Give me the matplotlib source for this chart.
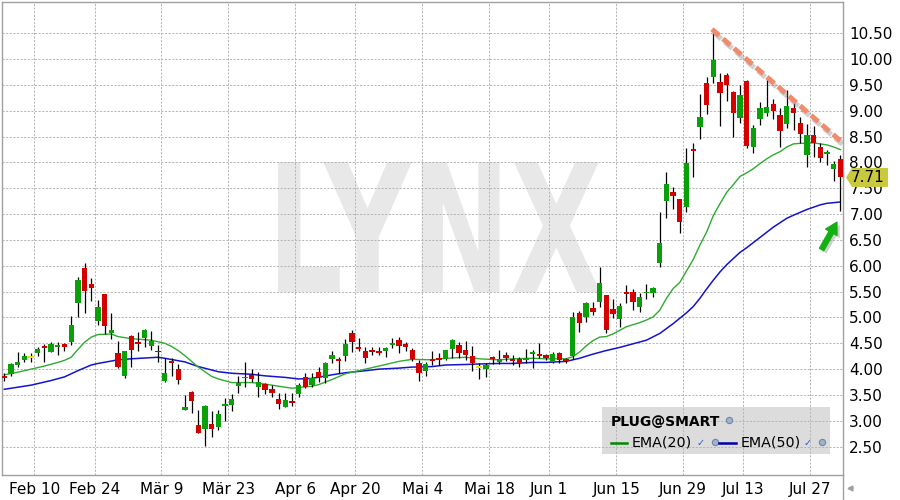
import numpy as np
import pandas as pd
import matplotlib
matplotlib.use("Agg")
import matplotlib.pyplot as plt
from matplotlib.textpath import TextPath
from matplotlib.font_manager import FontProperties
from matplotlib.patches import PathPatch, Rectangle, Polygon, FancyArrowPatch
from matplotlib.lines import Line2D
from matplotlib.transforms import Affine2D
import matplotlib.patheffects as pe

plt.rcParams['font.family'] = ['DejaVu Sans']
plt.rcParams['lines.scale_dashes'] = False

# ---------------- data ----------------
holidays = ['2020-02-17', '2020-04-10', '2020-05-25', '2020-07-03']
dates = [d for d in pd.bdate_range('2020-02-03', '2020-07-31')
         if d.strftime('%Y-%m-%d') not in holidays]

opens = [3.87, 3.90, 4.08, 4.18, 4.24, 4.32, 4.455, 4.34, 4.43, 4.487,
         4.53, 5.287, 5.95, 5.65, 4.94, 5.455, 4.706, 4.306, 3.87, 4.64,
         4.525, 4.596, 4.455, 4.36, 3.777, 4.157, 4.0, 3.215, 3.55, 2.92,
         2.84, 2.94, 2.886, 3.293, 3.31, 3.68, 3.82, 3.887, 3.65, 3.713,
         3.61, 3.42, 3.274, 3.384, 3.51, 3.842, 3.694, 3.952, 3.823, 4.197,
         4.197, 4.26, 4.707, 4.429, 4.358, 4.371, 4.352, 4.358, 4.474, 4.565,
         4.494, 4.371, 4.126, 3.971, 4.197, 4.223, 4.197, 4.397, 4.468, 4.371,
         4.255, 4.042, 4.003, 4.242, 4.145, 4.274, 4.19, 4.19, 4.177, 4.30,
         4.294, 4.274, 4.145, 4.32, 4.197, 4.261, 5.094, 5.0, 5.177, 5.306,
         5.435, 5.157, 4.963, 5.499, 5.499, 5.196, 5.467, 5.48, 6.047, 7.26,
         7.434, 7.292, 7.131, 8.26, 8.692, 9.531, 9.647, 9.557, 9.693, 9.37,
         8.867, 9.576, 8.305, 8.834, 8.963, 9.125, 8.918, 8.738, 9.06, 8.77,
         8.144, 8.531, 8.305, 8.157, 7.873, 8.06]
highs = [3.92, 4.11, 4.34, 4.31, 4.32, 4.435, 4.48, 4.53, 4.52, 4.51,
         5.02, 5.79, 6.06, 5.77, 5.34, 5.46, 5.09, 4.55, 4.36, 4.66,
         4.71, 4.78, 4.745, 4.47, 4.21, 4.21, 4.09, 3.50, 3.58, 3.21,
         3.306, 3.19, 3.21, 3.435, 3.51, 3.87, 4.13, 4.0, 3.94, 3.725,
         3.69, 3.53, 3.53, 3.53, 3.725, 3.93, 3.92, 4.05, 4.145, 4.36,
         4.229, 4.584, 4.758, 4.597, 4.436, 4.436, 4.436, 4.42, 4.597, 4.616,
         4.533, 4.416, 4.177, 4.145, 4.352, 4.307, 4.38, 4.584, 4.52, 4.545,
         4.449, 4.113, 4.113, 4.255, 4.371, 4.339, 4.274, 4.242, 4.39, 4.371,
         4.513, 4.294, 4.339, 4.33, 4.21, 5.113, 5.13, 5.306, 5.306, 5.983,
         5.44, 5.35, 5.273, 5.628, 5.544, 5.467, 5.647, 5.596, 7.047, 7.822,
         7.531, 7.30, 8.273, 8.37, 9.325, 9.647, 10.512, 9.725, 9.738, 9.38,
         9.499, 9.596, 8.725, 9.176, 9.628, 9.221, 9.047, 9.402, 9.209, 8.886,
         8.744, 8.705, 8.37, 8.241, 8.028, 8.144]
lows = [3.78, 3.87, 4.05, 4.13, 4.13, 4.255, 4.145, 4.33, 4.27, 4.36,
        4.47, 5.0, 5.09, 5.31, 4.855, 4.68, 4.58, 4.03, 3.82, 4.05,
        4.36, 4.435, 4.37, 4.145, 3.745, 3.87, 3.72, 3.20, 3.145, 2.76,
        2.51, 2.69, 2.82, 3.0, 3.197, 3.53, 3.66, 3.745, 3.467, 3.51,
        3.455, 3.22, 3.26, 3.287, 3.467, 3.63, 3.65, 3.76, 3.726, 4.126,
        3.93, 4.158, 4.339, 4.352, 4.126, 4.274, 4.274, 4.242, 4.416, 4.32,
        4.358, 4.158, 3.778, 3.874, 4.081, 4.081, 4.177, 4.21, 4.21, 4.177,
        3.971, 3.803, 3.855, 4.094, 4.094, 4.158, 4.081, 4.049, 4.113, 4.016,
        4.21, 4.177, 4.126, 4.113, 4.113, 4.197, 4.726, 4.918, 5.047, 5.209,
        4.693, 4.983, 4.822, 5.273, 5.144, 5.112, 5.35, 5.389, 5.97, 6.918,
        7.092, 6.628, 7.047, 7.725, 8.447, 8.938, 9.531, 8.705, 9.189, 8.499,
        8.757, 8.273, 8.176, 8.725, 8.905, 8.834, 8.305, 8.673, 8.628, 8.37,
        7.918, 8.112, 8.015, 7.951, 7.647, 7.06]
closes = [3.835, 4.10, 4.14, 4.255, 4.24, 4.39, 4.415, 4.487, 4.47, 4.435,
          4.855, 5.725, 5.52, 5.58, 5.21, 4.835, 4.76, 4.05, 4.35, 4.37,
          4.487, 4.76, 4.55, 4.325, 3.92, 4.12, 3.79, 3.26, 3.39, 2.77,
          3.287, 2.84, 3.125, 3.325, 3.42, 3.725, 3.855, 3.81, 3.745, 3.596,
          3.545, 3.32, 3.403, 3.35, 3.693, 3.662, 3.823, 3.842, 4.126, 4.274,
          4.158, 4.487, 4.533, 4.39, 4.223, 4.339, 4.32, 4.416, 4.507, 4.455,
          4.436, 4.197, 3.93, 4.10, 4.158, 4.177, 4.371, 4.571, 4.313, 4.274,
          4.126, 4.042, 4.081, 4.197, 4.197, 4.223, 4.158, 4.12, 4.216, 4.339,
          4.261, 4.223, 4.294, 4.171, 4.158, 5.0, 4.90, 5.286, 5.112, 5.66,
          4.757, 5.067, 5.222, 5.454, 5.306, 5.402, 5.499, 5.577, 6.447, 7.583,
          7.357, 6.841, 7.983, 8.228, 8.873, 9.112, 9.983, 9.35, 9.499, 8.963,
          9.305, 8.325, 8.66, 9.047, 9.067, 9.002, 8.615, 9.093, 8.963, 8.544,
          8.531, 8.383, 8.08, 8.209, 7.97, 7.71]

ema20_idx = [0, 2, 4, 6, 8, 9, 10, 11, 12, 13, 14, 16, 17, 19, 22, 23, 24, 25,
             26, 27, 28, 29, 30, 31, 32, 34, 37, 39, 41, 43, 44, 46, 47, 49, 51,
             54, 56, 59, 61, 64, 66, 69, 71, 74, 76, 79, 81, 84, 85, 86, 87, 88,
             89, 90, 91, 92, 93, 94, 95, 96, 97, 98, 99, 100, 101, 102, 103, 104,
             105, 106, 107, 108, 109, 110, 111, 112, 113, 114, 115, 116, 117, 118,
             119, 120, 121, 122, 123, 124, 125]
ema20 = [3.89, 3.94, 4.0, 4.06, 4.13, 4.17, 4.23, 4.38, 4.52, 4.62, 4.67, 4.68,
         4.63, 4.59, 4.56, 4.53, 4.50, 4.44, 4.36, 4.26, 4.15, 4.04, 3.95, 3.86,
         3.81, 3.74, 3.74, 3.71, 3.67, 3.63, 3.645, 3.67, 3.70, 3.80, 3.91, 4.00,
         4.06, 4.15, 4.19, 4.18, 4.21, 4.23, 4.20, 4.18, 4.20, 4.21, 4.20, 4.20,
         4.24, 4.33, 4.45, 4.55, 4.62, 4.63, 4.68, 4.75, 4.82, 4.86, 4.90, 4.95,
         5.01, 5.14, 5.37, 5.56, 5.68, 5.90, 6.12, 6.40, 6.65, 6.97, 7.20, 7.42,
         7.57, 7.73, 7.80, 7.88, 7.98, 8.07, 8.15, 8.21, 8.30, 8.36, 8.37, 8.37,
         8.38, 8.36, 8.34, 8.30, 8.25]

ema50_idx = [0, 4, 7, 9, 10, 11, 13, 14, 17, 19, 23, 24, 27, 29, 32, 34, 37, 39,
             42, 44, 46, 49, 51, 54, 56, 59, 61, 64, 66, 69, 71, 74, 76, 79, 81,
             84, 86, 88, 90, 92, 94, 96, 98, 100, 102, 103, 104, 105, 106, 107,
             108, 109, 110, 111, 113, 115, 117, 118, 120, 122, 123, 125]
ema50 = [3.61, 3.69, 3.78, 3.85, 3.91, 3.97, 4.08, 4.11, 4.18, 4.20, 4.23, 4.21,
         4.14, 4.05, 3.95, 3.92, 3.90, 3.87, 3.84, 3.81, 3.82, 3.89, 3.93, 3.97,
         4.00, 4.02, 4.04, 4.05, 4.08, 4.09, 4.10, 4.11, 4.11, 4.13, 4.13, 4.15,
         4.21, 4.29, 4.36, 4.42, 4.49, 4.56, 4.69, 4.88, 5.09, 5.21, 5.37, 5.55,
         5.72, 5.88, 6.02, 6.14, 6.26, 6.35, 6.55, 6.75, 6.92, 6.98, 7.09, 7.18,
         7.21, 7.235]

tick_dates = ['2020-02-10', '2020-02-24', '2020-03-09', '2020-03-23', '2020-04-06',
              '2020-04-20', '2020-05-04', '2020-05-18', '2020-06-01', '2020-06-15',
              '2020-06-29', '2020-07-13', '2020-07-27']
tick_labels = ['Feb 10', 'Feb 24', 'Mär 9', 'Mär 23', 'Apr 6', 'Apr 20', 'Mai 4',
               'Mai 18', 'Jun 1', 'Jun 15', 'Jun 29', 'Jul 13', 'Jul 27']
y_ticks = [2.5, 3.0, 3.5, 4.0, 4.5, 5.0, 5.5, 6.0, 6.5, 7.0, 7.5, 8.0, 8.5,
           9.0, 9.5, 10.0, 10.5]
last_price = 7.71

trend_x = [105.8, 125.0]
trend_y = [10.58, 8.42]
arrow_tail = (122.0, 6.27)
arrow_head = (124.7, 6.89)

# ---------------- figure ----------------
W, H = 900, 500
fig = plt.figure(figsize=(9, 5), dpi=100)
fig.patch.set_facecolor('white')


def F(x, y):
    return (x / W, 1 - y / H)


ax_l, ax_r, ax_t, ax_b = 1.5, 843, 2, 475
ax = fig.add_axes([ax_l / W, 1 - ax_b / H, (ax_r - ax_l) / W, (ax_b - ax_t) / H])
ax.set_xlim(-0.419, 125.40)
ax.set_ylim(1.951, 11.106)
ax.set_axisbelow(True)

# watermark
fp = FontProperties(family='DejaVu Sans', weight='bold')
tp = TextPath((0, 0), 'LYNX', size=100, prop=fp)
bb = tp.get_extents()
wx0, wx1, wy0, wy1 = 278, 600, 162, 292
tr = (Affine2D().translate(-bb.x0, -bb.y0)
      .scale((wx1 - wx0) / W / bb.width, (wy1 - wy0) / H / bb.height)
      .translate(wx0 / W, 1 - wy1 / H) + fig.transFigure)
wm = PathPatch(tp, transform=tr, facecolor='#e8e8e8', edgecolor='none',
               zorder=0.1, clip_on=False)
ax.add_patch(wm)

# legend box background (under grid)
lg = Rectangle(F(601.5, 454), 228 / W, 47 / H, transform=fig.transFigure,
               facecolor='#dcdcdc', edgecolor='none', zorder=0.2, clip_on=False)
ax.add_patch(lg)

# grid / axes styling
ax.set_yticks(y_ticks)
ax.set_yticklabels([f'{v:.2f}' for v in y_ticks])
ax.yaxis.tick_right()
tick_pos = [dates.index(pd.Timestamp(t)) - 0.5 for t in tick_dates]
ax.set_xticks(tick_pos)
ax.set_xticklabels(tick_labels)
ax.grid(True, color='#b4b4b4', lw=0.7, linestyle=(0, (1.5, 1.1)))
ax.tick_params(axis='both', length=0, labelsize=11, colors='black')
ax.tick_params(axis='y', pad=4.5)
ax.tick_params(axis='x', pad=5)
for s in ax.spines.values():
    s.set_color('#a0a0a0')
    s.set_linewidth(1.0)

# EMA lines
ax.plot(ema50_idx, ema50, color='#1414cc', lw=1.1, zorder=2)
ax.plot(ema20_idx, ema20, color='#30aa30', lw=1.0, zorder=2)

# candles
idx = np.arange(len(opens))
o = np.array(opens)
c = np.array(closes)
colors = np.where(c > o, '#0aa00a', np.where(c < o, '#d40000', '#e6e600'))
bottom = np.minimum(o, c)
height = np.maximum(np.abs(c - o), 0.03)
bottom = np.where(np.abs(c - o) < 0.03, (o + c) / 2 - 0.015, bottom)
ax.vlines(idx, lows, highs, color='black', lw=0.9, zorder=3)
ax.bar(idx, height, bottom=bottom, width=0.8, color=colors, linewidth=0, zorder=4)

# trend line
ax.plot(trend_x, trend_y, color='#f08c6e', lw=3.6, linestyle=(0, (7, 3.5)),
        solid_capstyle='butt', zorder=6,
        path_effects=[pe.SimpleLineShadow(offset=(1.5, -2.5), shadow_color='#777777', alpha=0.35),
                      pe.Normal()])

# green arrow
arr = FancyArrowPatch(posA=arrow_tail, posB=arrow_head,
                      arrowstyle='simple,head_length=0.75,head_width=0.85,tail_width=0.32',
                      mutation_scale=11, color='#12b012', zorder=6,
                      path_effects=[pe.SimplePatchShadow(offset=(2, -2), shadow_rgbFace='#777777', alpha=0.35),
                                    pe.Normal()])
ax.add_patch(arr)

# last price label
yp = 1 - (ax_b - (last_price - 1.951) / (11.106 - 1.951) * (ax_b - ax_t)) / H
ypx = (1 - yp) * H
poly = Polygon([F(846, ypx), F(852, ypx - 9.5), F(888, ypx - 9.5),
                F(888, ypx + 9.5), F(852, ypx + 9.5)], closed=True,
               transform=fig.transFigure, facecolor='#c9c93e', edgecolor='none',
               zorder=10, clip_on=False)
fig.add_artist(poly)
fig.text(*F(867.5, ypx), f'{last_price:.2f}', fontsize=11, ha='center',
         va='center', color='black', zorder=11)

# legend contents
fig.text(*F(611, 421.5), 'PLUG@SMART', fontsize=10, fontweight='bold',
         ha='left', va='center', color='black', zorder=11)


def hand(x, y):
    fig.add_artist(Line2D([x / W], [1 - y / H], marker='o', markersize=4.5,
                          markerfacecolor='#9fb3cc', markeredgecolor='#6f86a6',
                          markeredgewidth=0.8, transform=fig.transFigure, zorder=11))


def check(x, y):
    fig.text(*F(x, y), '\u2713', fontsize=7, color='#1a5fd0', ha='center',
             va='center', fontweight='bold', zorder=11)


hand(729, 420)
fig.add_artist(Line2D([611 / W, 627 / W], [1 - 442.5 / H] * 2, color='#008800',
                      lw=1.8, transform=fig.transFigure, zorder=11))
fig.text(*F(632, 442.5), 'EMA(20)', fontsize=10.3, ha='left', va='center', zorder=11)
check(701, 443)
hand(715, 442)
fig.add_artist(Line2D([719 / W, 736 / W], [1 - 442.5 / H] * 2, color='#0000aa',
                      lw=1.8, transform=fig.transFigure, zorder=11))
fig.text(*F(741, 442.5), 'EMA(50)', fontsize=10.3, ha='left', va='center', zorder=11)
check(808, 443)
hand(822, 442)

# axis extension & small arrow at bottom right
fig.add_artist(Line2D([ax_r / W] * 2, [0, 1 - ax_b / H], color='#a0a0a0', lw=1.0,
                      transform=fig.transFigure))
fig.add_artist(Line2D([850 / W], [1 - 488 / H], marker='<', markersize=3.5,
                      color='#a0a0a0', transform=fig.transFigure))

fig.savefig('out.png', dpi=100, facecolor='white')
